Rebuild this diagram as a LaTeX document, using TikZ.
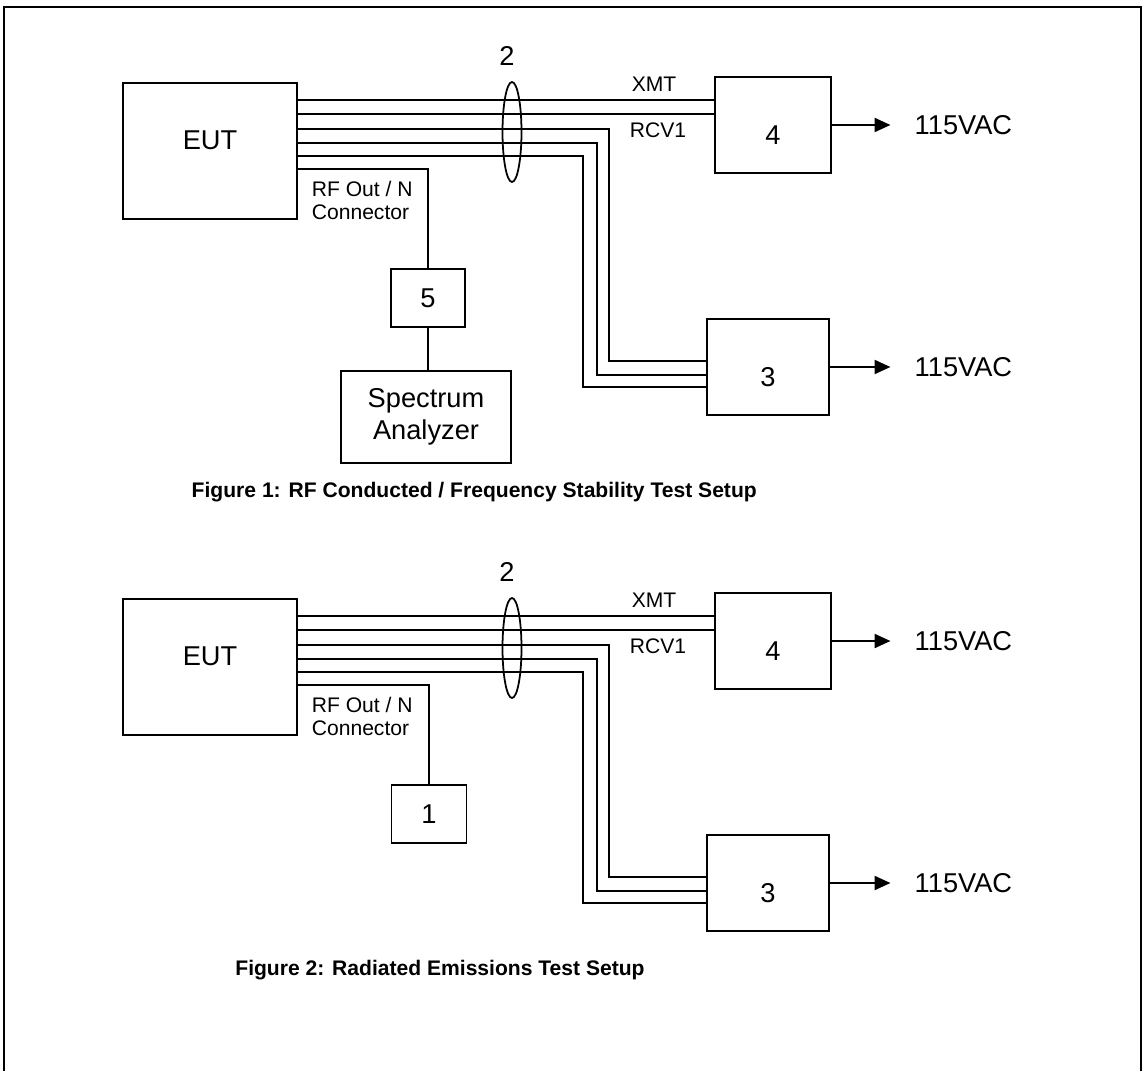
\documentclass[tikz,border=0pt]{standalone}
\usepackage{fontspec}
\setmainfont{Liberation Sans}
\usetikzlibrary{positioning, arrows.meta, shapes.geometric}

\begin{document}
\begin{tikzpicture}[x=0.02cm, y=-0.02cm, >={Triangle[length=9pt,width=8pt]}, line width=1pt,
  every node/.style={font=\fontsize{15.5}{18.2}\selectfont},
  box/.style={draw, rectangle, inner sep=0pt},
  small/.style={font=\fontsize{12}{13.2}\selectfont},
  caption/.style={font=\fontsize{12}{14}\selectfont\bfseries}]
  \useasboundingbox (0,0) rectangle (1143,1071);
  % page frame
  \draw[line width=1.2pt] (4,1071) -- (4,7) -- (1141,7) -- (1141,1071);

  % common part of both setups
  \foreach \pre/\dy in {a/0, b/516} {
    \begin{scope}[shift={(0,\dy)}, name prefix=\pre-]
      \node[box, minimum width=3.48cm, minimum height=2.72cm, label={[yshift=6pt]center:EUT}] (eut) at (210,151) {};
      \node[box, minimum width=2.32cm, minimum height=1.92cm, label={[yshift=-5.5pt]center:4}] (tx) at (773,125) {};
      \node[box, minimum width=2.44cm, minimum height=1.92cm, label={[yshift=-6pt]center:3}] (rx) at (768,367) {};
      \node[draw, ellipse, minimum width=0.38cm, minimum height=2cm, inner sep=0pt] (bundle) at (512,132) {};
      \node (num) at (507,56) {2};
      \node[small] (xmt) at (654,84) {XMT};
      \node[small] (rcv) at (658,130) {RCV1};
      \node[anchor=west] (pwr4) at (908,125) {115VAC};
      \node[anchor=west] (pwr3) at (908,367) {115VAC};
      \node[small, align=left, anchor=north west, inner sep=0pt] (rfout) at (311,180) {RF Out / N\\Connector};
      % XMT / RCV1 lines
      \draw (eut.east |- 0,100) -- (tx.west |- 0,100);
      \draw (eut.east |- 0,114) -- (tx.west |- 0,114);
      % lines to 3
      \foreach \ya/\xt/\yb in {129/609/361, 143/597/375, 156/583/387}
        \draw (eut.east |- 0,\ya) -| (\xt,\yb) -- (rx.west |- 0,\yb);
      \draw[->, shorten >=10pt] (tx.east) -- (pwr4.west);
      \draw[->, shorten >=10pt] (rx.east) -- (pwr3.west);
    \end{scope}
  }

  % Figure 1
  \node[box, minimum width=1.48cm, minimum height=1.16cm] (a-att) at (428,298) {5};
  \node[box, minimum width=3.4cm, minimum height=1.84cm, align=center] (a-sa) at (426,417) {Spectrum\\Analyzer};
  \draw (a-eut.east |- 0,169) -| (a-att);
  \draw (a-att) -- (a-att |- a-sa.north);
  \node[caption, anchor=west] (a-cap) at (185,492) {Figure 1: RF Conducted / Frequency Stability Test Setup};

  % Figure 2
  \node[box, minimum width=1.5cm, minimum height=1.16cm] (b-ant) at (429,814) {1};
  \draw (b-eut.east |- 0,685) -| (b-ant);
  \node[caption] (b-cap) at (440,970) {Figure 2: Radiated Emissions Test Setup};
\end{tikzpicture}
\end{document}
